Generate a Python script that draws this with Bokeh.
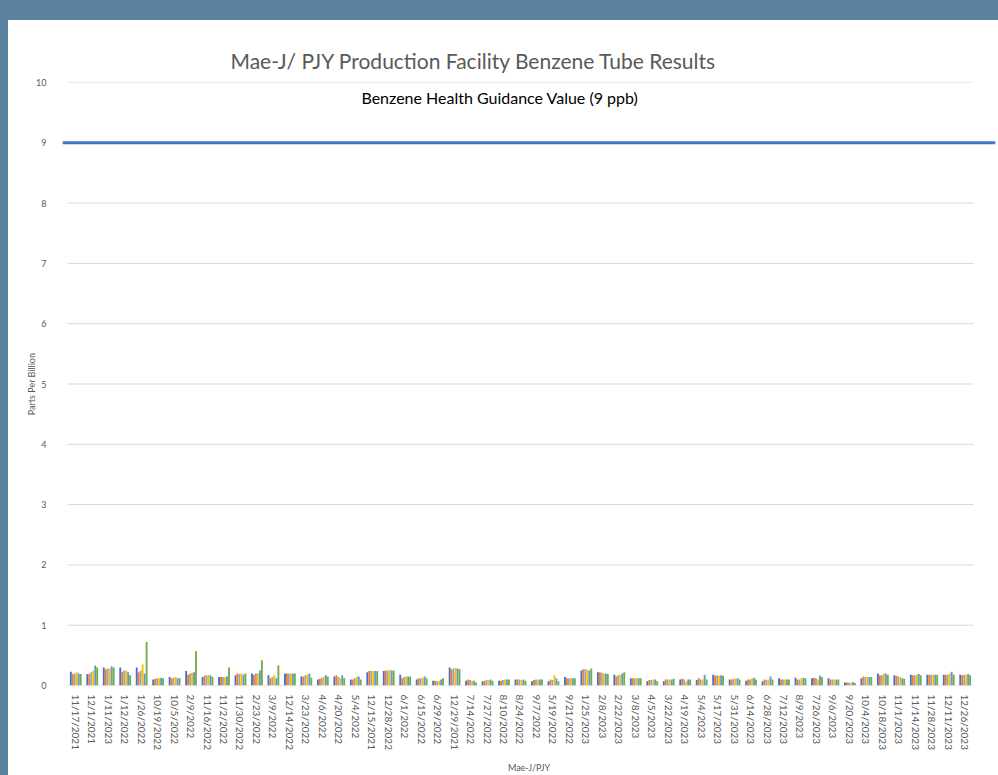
from bokeh.plotting import figure
from bokeh.models import (ColumnDataSource, FixedTicker, Range1d, Span, Label, Title,
                          BoxAnnotation)
from bokeh.transform import dodge
from bokeh.embed import file_html
from bokeh.resources import INLINE

dates = ["11/17/2021", "12/1/2021", "1/11/2023", "1/12/2022", "1/26/2022", "10/19/2022",
         "10/5/2022", "2/9/2022", "11/16/2022", "11/2/2022", "11/30/2022", "2/23/2022",
         "3/9/2022", "12/14/2022", "3/23/2022", "4/6/2022", "4/20/2022", "5/4/2022",
         "12/15/2021", "12/28/2022", "6/1/2022", "6/15/2022", "6/29/2022", "12/29/2021",
         "7/14/2022", "7/27/2022", "8/10/2022", "8/24/2022", "9/7/2022", "5/19/2022",
         "9/21/2022", "1/25/2023", "2/8/2023", "2/22/2023", "3/8/2023", "4/5/2023",
         "3/22/2023", "4/19/2023", "5/4/2023", "5/17/2023", "5/31/2023", "6/14/2023",
         "6/28/2023", "7/12/2023", "8/9/2023", "7/26/2023", "9/6/2023", "9/20/2023",
         "10/4/2023", "10/18/2023", "11/1/2023", "11/14/2023", "11/28/2023", "12/11/2023",
         "12/26/2023"]

tube1 = [0.23, 0.19, 0.30, 0.30, 0.30, 0.10, 0.14, 0.24, 0.14, 0.14, 0.17, 0.20, 0.17, 0.20,
         0.15, 0.10, 0.15, 0.10, 0.22, 0.24, 0.18, 0.10, 0.08, 0.30, 0.08, 0.07, 0.08, 0.10,
         0.07, 0.07, 0.14, 0.25, 0.22, 0.18, 0.12, 0.07, 0.07, 0.10, 0.09, 0.18, 0.10, 0.08,
         0.07, 0.12, 0.13, 0.12, 0.12, 0.05, 0.12, 0.20, 0.17, 0.18, 0.18, 0.18, 0.18]
tube2 = [0.19, 0.19, 0.27, 0.23, 0.22, 0.11, 0.12, 0.18, 0.16, 0.14, 0.20, 0.18, 0.12, 0.20,
         0.15, 0.11, 0.17, 0.10, 0.24, 0.25, 0.12, 0.12, 0.08, 0.27, 0.10, 0.08, 0.08, 0.10,
         0.09, 0.10, 0.12, 0.27, 0.22, 0.15, 0.12, 0.09, 0.10, 0.11, 0.12, 0.16, 0.10, 0.10,
         0.10, 0.10, 0.10, 0.13, 0.10, 0.05, 0.15, 0.17, 0.16, 0.17, 0.18, 0.18, 0.17]
tube3 = [0.20, 0.22, 0.28, 0.25, 0.25, 0.12, 0.13, 0.20, 0.17, 0.14, 0.19, 0.20, 0.14, 0.20,
         0.17, 0.13, 0.14, 0.12, 0.24, 0.25, 0.14, 0.12, 0.07, 0.28, 0.09, 0.09, 0.09, 0.10,
         0.10, 0.09, 0.12, 0.27, 0.21, 0.17, 0.12, 0.09, 0.10, 0.10, 0.10, 0.17, 0.11, 0.10,
         0.09, 0.10, 0.10, 0.12, 0.10, 0.05, 0.14, 0.17, 0.15, 0.17, 0.18, 0.18, 0.18]
tube4 = [0.22, 0.25, 0.28, 0.25, 0.35, 0.12, 0.14, 0.21, 0.18, 0.14, 0.20, 0.20, 0.17, 0.20,
         0.18, 0.14, 0.12, 0.14, 0.24, 0.26, 0.15, 0.13, 0.08, 0.29, 0.08, 0.09, 0.10, 0.09,
         0.10, 0.17, 0.12, 0.26, 0.20, 0.18, 0.12, 0.10, 0.10, 0.06, 0.10, 0.16, 0.12, 0.12,
         0.10, 0.10, 0.12, 0.10, 0.10, 0.04, 0.14, 0.20, 0.14, 0.18, 0.18, 0.20, 0.18]
tube5 = [0.20, 0.33, 0.32, 0.22, 0.20, 0.13, 0.12, 0.22, 0.17, 0.15, 0.18, 0.25, 0.12, 0.20,
         0.20, 0.17, 0.17, 0.15, 0.24, 0.25, 0.15, 0.15, 0.10, 0.28, 0.08, 0.10, 0.10, 0.10,
         0.10, 0.12, 0.12, 0.25, 0.20, 0.20, 0.12, 0.10, 0.10, 0.10, 0.18, 0.17, 0.12, 0.13,
         0.15, 0.10, 0.13, 0.16, 0.10, 0.06, 0.14, 0.20, 0.12, 0.19, 0.18, 0.23, 0.19]
tube6 = [0.19, 0.30, 0.30, 0.17, 0.72, 0.12, 0.12, 0.57, 0.14, 0.30, 0.20, 0.42, 0.33, 0.20,
         0.13, 0.15, 0.12, 0.10, 0.24, 0.25, 0.15, 0.12, 0.12, 0.27, 0.05, 0.08, 0.10, 0.08,
         0.10, 0.07, 0.12, 0.28, 0.19, 0.22, 0.12, 0.07, 0.11, 0.10, 0.10, 0.16, 0.10, 0.10,
         0.10, 0.10, 0.12, 0.14, 0.10, 0.04, 0.14, 0.18, 0.11, 0.17, 0.18, 0.18, 0.17]

series = [tube1, tube2, tube3, tube4, tube5, tube6]
colors = ["#4472C4", "#ED7D31", "#A5A5A5", "#FFC000", "#5B9BD5", "#70AD47"]
grid_values = [0, 1, 2, 3, 4, 5, 6, 7, 8, 9, 10]
y_ticks = [0, 1, 2, 3, 4, 5, 6, 7, 8, 9, 10]
guidance_value = 9

n = len(dates)
pos = list(range(n))
data = {"x": pos}
for i, s in enumerate(series):
    data["s%d" % i] = s
src = ColumnDataSource(data)

TXT = "#595959"
FONT = "Lato"
W, H = 990, 755

p = figure(width=W, height=H, output_backend="svg", toolbar_location=None,
           x_range=Range1d(-0.806, n - 1 + 1.84), y_range=Range1d(0, 10),
           min_border_left=54, min_border_right=3, min_border_top=62, min_border_bottom=90)
p.outline_line_color = None
p.background_fill_color = "white"
p.border_fill_color = "white"
p.styles = {"background-color": "white"}
p.xgrid.visible = False
p.ygrid.visible = False

xa = p.xaxis[0]
ya = p.yaxis[0]

t = Title(text="Mae-J/ PJY Production Facility Benzene Tube Results", align="left",
          offset=168, text_font=FONT, text_font_size="21px", text_font_style="normal",
          text_color=TXT, standoff=20)
p.add_layout(t, "above")

# gridlines
p.segment(x0=-0.5, x1=n - 0.5, y0=grid_values, y1=grid_values, line_color="#D9D9D9",
          line_width=1)

# box round the category labels (Excel style)
p.add_layout(BoxAnnotation(left=-0.5, right=n - 0.5, top=0, bottom=H + 2,
                           bottom_units="canvas", fill_color=None, fill_alpha=0,
                           line_color="#D9D9D9", line_width=1, level="underlay"))

bw = 0.12
for i, s in enumerate(series):
    off = (i - (len(series) - 1) / 2) * bw
    p.vbar(x=dodge("x", off, range=p.x_range), top="s%d" % i, width=bw * 0.95, source=src,
           fill_color=colors[i], line_color=None)

p.add_layout(Span(location=guidance_value, dimension="width", line_color="#4472C4",
                  line_width=3))
p.add_layout(Label(x=25.75, y=9.75, text="Benzene Health Guidance Value (9 ppb)",
                   text_align="center", text_baseline="middle", text_font=FONT,
                   text_font_size="16px", text_color="#000000"))

xa.ticker = FixedTicker(ticks=pos)
xa.major_label_overrides = {i: d for i, d in enumerate(dates)}
xa.major_label_orientation = "vertical"
xa.major_label_text_font = FONT
xa.major_label_text_font_size = "10px"
xa.major_label_text_color = TXT
xa.major_label_standoff = 3
xa.major_tick_line_color = None
xa.minor_tick_line_color = None
xa.axis_line_color = None
xa.axis_label = "Mae-J/PJY"
xa.axis_label_text_font = FONT
xa.axis_label_text_font_size = "9px"
xa.axis_label_text_font_style = "normal"
xa.axis_label_text_color = TXT
xa.axis_label_standoff = 9

ya.ticker = FixedTicker(ticks=y_ticks)
ya.major_tick_line_color = None
ya.minor_tick_line_color = None
ya.axis_line_color = None
ya.major_label_text_font = FONT
ya.major_label_text_font_size = "9px"
ya.major_label_text_color = TXT
ya.major_label_standoff = 10
ya.axis_label = "Parts Per Billion"
ya.axis_label_text_font = FONT
ya.axis_label_text_font_size = "9px"
ya.axis_label_text_font_style = "normal"
ya.axis_label_text_color = TXT
ya.axis_label_standoff = -4

html = file_html(p, INLINE)
style = ("<style>html,body{background-color:#5B83A0 !important;}"
         "body{margin:20px 0 0 8px !important; overflow:hidden;}</style>")
if "</head>" in html:
    html = html.replace("</head>", style + "</head>", 1)
else:
    html = style + html
open("out.html", "w").write(html)
